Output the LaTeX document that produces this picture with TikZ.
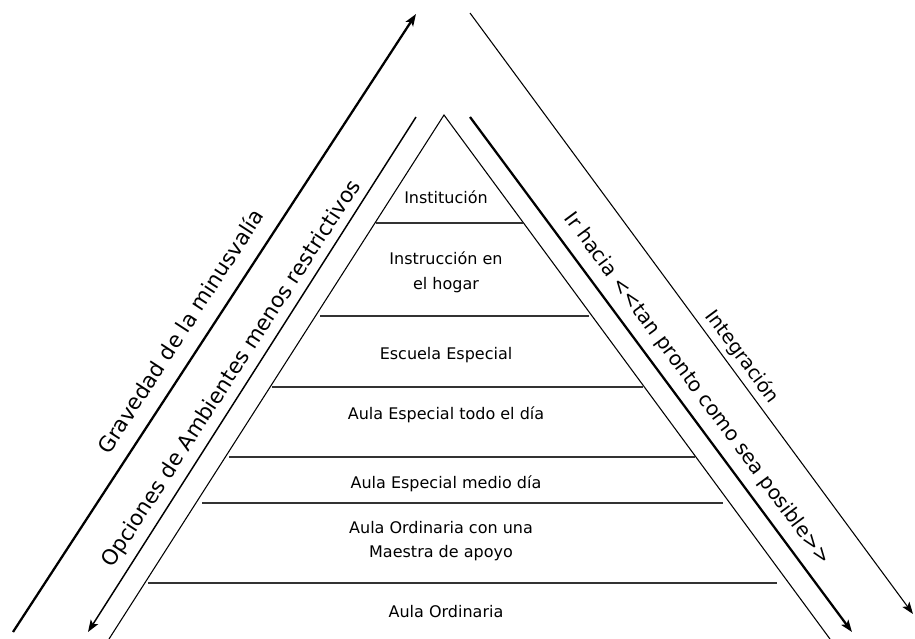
\documentclass[tikz,border=0pt]{standalone}
\usepackage{fontspec}
\setmainfont{DejaVu Sans}
\usetikzlibrary{arrows.meta}
\begin{document}
\begin{tikzpicture}[x=0.75pt,y=-0.75pt,
  edgeline/.style={line width=0.8pt, black},
  bigarrow/.style={line width=1.7pt, black},
  midarrow/.style={line width=1.1pt, black},
  arrowend/.style={-{Stealth[length=9pt,width=6.5pt,inset=2pt]}},
  arrowstart/.style={{Stealth[length=9pt,width=6.5pt,inset=2pt]}-},
  tierline/.style={line width=1.3pt, black!80},
  lvl/.style={font=\fontsize{12}{18.5}\selectfont, align=center, inner sep=0pt},
  side/.style={font=\fontsize{16}{19}\selectfont, inner sep=0pt}]
\path[use as bounding box] (0,0) rectangle (915,639);

% end points
\coordinate (Abot) at (13,632);  \coordinate (Atop) at (416,14);
\coordinate (Btop) at (416,117); \coordinate (Bbot) at (88,632);
\coordinate (apex) at (444,115);
\coordinate (Cbot) at (109,639); \coordinate (Dbot) at (830,639);
\coordinate (Etop) at (470,117); \coordinate (Ebot) at (852,632);
\coordinate (Ftop) at (470,13);  \coordinate (Fbot) at (913,614);

% left arrows
\draw[bigarrow, arrowend] (Abot) -- (Atop);
\draw[midarrow, arrowend] (Btop) -- (Bbot);
% pyramid
\draw[edgeline] (Cbot) -- (apex) -- (Dbot);
% right arrows
\draw[bigarrow, arrowend] (Etop) -- (Ebot);
\draw[edgeline, arrowend] (Ftop) -- (Fbot);

% tiers
\coordinate (h1l) at (376,223); \coordinate (h1r) at (523,223);
\coordinate (h2l) at (320,316); \coordinate (h2r) at (589,316);
\coordinate (h3l) at (272,387); \coordinate (h3r) at (643,387);
\coordinate (h4l) at (229,457); \coordinate (h4r) at (695,457);
\coordinate (h5l) at (202,503); \coordinate (h5r) at (723,503);
\coordinate (h6l) at (148,583); \coordinate (h6r) at (777,583);
\foreach \i in {1,...,6} \draw[tierline] (h\i l) -- (h\i r);

% tier labels
\node[lvl] (t1) at (446,197) {Institución};
\node[lvl] (t2) at (446,272) {Instrucción en\\el hogar};
\node[lvl] (t3) at (446,355) {Escuela Especial};
\node[lvl] (t4) at (446,415) {Aula Especial todo el día};
\node[lvl] (t5) at (446,484) {Aula Especial medio día};
\node[lvl] (t6) at (441,541) {Aula Ordinaria con una\\Maestra de apoyo};
\node[lvl] (t7) at (446,612) {Aula Ordinaria};

% side labels
\node[side, rotate=57] (s1) at (180,331) {Gravedad de la minusvalía};
\node[side, rotate=57] (s2) at (232,374) {Opciones de Ambientes menos restrictivos};
\node[side, rotate=-53.5, font=\fontsize{15}{18}\selectfont] (s3) at (697,389) {Ir hacia <\kern0pt<tan pronto como sea posible>\kern0pt>};
\node[side, rotate=-53.5, font=\fontsize{14.5}{18}\selectfont] (s4) at (742,357) {Integración};
\end{tikzpicture}
\end{document}
